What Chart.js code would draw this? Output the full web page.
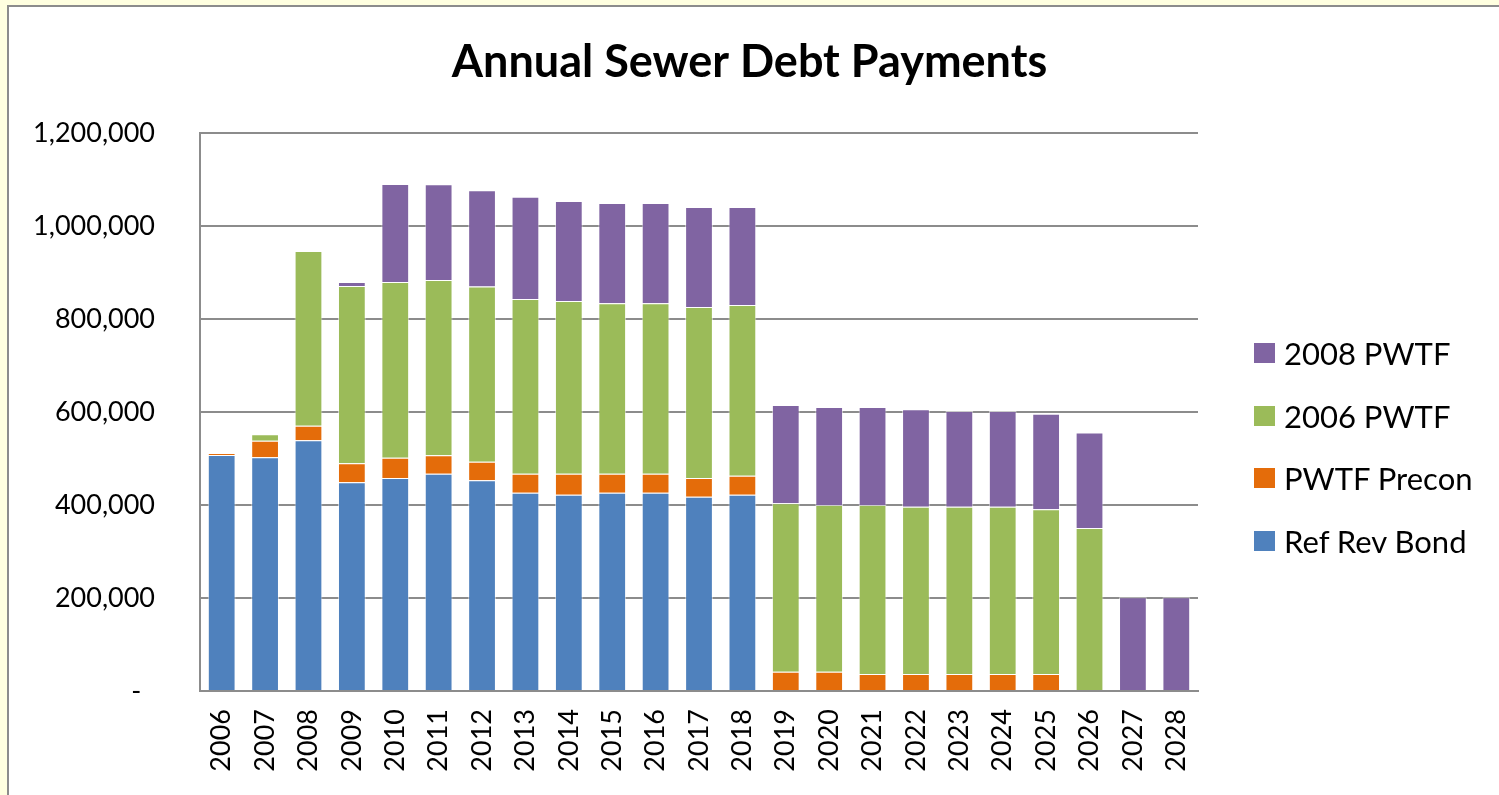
<!DOCTYPE html>
<html>
<head>
<meta charset="utf-8">
<script src="https://cdn.jsdelivr.net/npm/chart.js@4.4.1/dist/chart.umd.min.js"></script>
<style>
  html, body { margin: 0; padding: 0; }
  body { width: 1499px; height: 795px; overflow: hidden; background: #ffffe0; position: relative; font-family: Lato, sans-serif; }
  #frame { position: absolute; left: 7px; top: 5px; width: 1600px; height: 900px; background: #fff; border: 2px solid #8c8c8c; }
  #myChart { position: absolute; left: 0; top: 0; }
  #legend { position: absolute; left: 1254px; top: 322px; }
  .legend-row { display: flex; align-items: center; height: 62.5px; font-size: 31px; color: #000; white-space: nowrap; }
  .legend-box { width: 21px; height: 20px; margin-right: 9px; }
</style>
</head>
<body>
<div id="frame"></div>
<canvas id="myChart" width="1499" height="795"></canvas>
<div id="legend"></div>
<script>
const years = [
  "2006", "2007", "2008", "2009", "2010", "2011", "2012", "2013", "2014", "2015", "2016", "2017",
  "2018", "2019", "2020", "2021", "2022", "2023", "2024", "2025", "2026", "2027", "2028",
];

const refRevBond = [
  507500, 502600, 539000, 449000, 458000, 467000, 453000, 426500, 422000, 426500, 426500, 418000,
  422000, 0, 0, 0, 0, 0, 0, 0, 0, 0, 0,
];
const pwtfPrecon = [
  4500, 35500, 31500, 40600, 43700, 40000, 40000, 40500, 45000, 40500, 40500, 40000,
  41000, 41500, 41500, 36600, 36600, 36600, 36600, 36600, 0, 0, 0,
];
const pwtf2006 = [
  0, 14000, 375500, 381400, 378000, 377000, 377000, 376000, 371700, 367000, 367000, 368000,
  367000, 362500, 358500, 363400, 359400, 359400, 359400, 354400, 350500, 0, 0,
];
const pwtf2008 = [
  0, 0, 0, 8600, 210700, 206000, 207000, 220000, 215000, 215500, 215500, 215000,
  211000, 211000, 211000, 211000, 210000, 206000, 206000, 205000, 205500, 201500, 201500,
];

const yTicks = [0, 200000, 400000, 600000, 800000, 1000000, 1200000];

const gridGrey = "#8c8c8c";

function makeSeries(label, data, color) {
  return {
    label: label,
    data: data,
    backgroundColor: color,
    borderColor: "rgba(255, 255, 255, 0.55)",
    borderWidth: 1,
    barPercentage: 0.64,
    categoryPercentage: 1,
  };
}

const datasets = [
  makeSeries("Ref Rev Bond", refRevBond, "#4f81bd"),
  makeSeries("PWTF Precon", pwtfPrecon, "#e46c0a"),
  makeSeries("2006 PWTF", pwtf2006, "#9bbb59"),
  makeSeries("2008 PWTF", pwtf2008, "#8064a2"),
];

const chart = new Chart(document.getElementById("myChart"), {
  type: "bar",
  data: { labels: years, datasets: datasets },
  options: {
    responsive: false,
    animation: false,
    devicePixelRatio: 1,
    layout: { padding: 0 },
    plugins: {
      legend: { display: false },
      tooltip: { enabled: false },
      title: {
        display: true,
        text: "Annual Sewer Debt Payments",
        color: "#000",
        font: { family: "Lato", size: 45, weight: "bold" },
        padding: { top: 35, bottom: 44 },
      },
    },
    scales: {
      x: {
        stacked: true,
        grid: { display: false, drawTicks: false },
        border: { display: true, color: gridGrey, width: 2 },
        ticks: {
          color: "#000",
          font: { family: "Lato", size: 27 },
          minRotation: 90,
          maxRotation: 90,
          autoSkip: false,
          padding: 18,
        },
        afterFit: (scale) => { scale.height = 104; },
      },
      y: {
        stacked: true,
        min: 0,
        max: 1200000,
        grid: { color: gridGrey, lineWidth: 2, drawTicks: false },
        border: { display: true, color: gridGrey, width: 2 },
        afterBuildTicks: (scale) => { scale.ticks = yTicks.map((v) => ({ value: v })); },
        ticks: {
          color: "#000",
          font: { family: "Lato", size: 27 },
          padding: 45,
          callback: (v) => (v === 0 ? "-  " : v.toLocaleString("en-US")),
        },
        afterFit: (scale) => { scale.width = 200; },
      },
      // empty right-hand axis, only reserves the room the legend sits in
      legendSpace: {
        type: "linear",
        position: "right",
        display: true,
        grid: { display: false, drawTicks: false },
        border: { display: false },
        ticks: { display: false },
        afterFit: (scale) => { scale.width = 301; },
      },
    },
  },
});

// legend, top to bottom in reverse stack order like the original
const legendEl = document.getElementById("legend");
chart.data.datasets.slice().reverse().forEach((ds) => {
  const row = document.createElement("div");
  row.className = "legend-row";
  const box = document.createElement("span");
  box.className = "legend-box";
  box.style.background = ds.backgroundColor;
  const txt = document.createElement("span");
  txt.textContent = ds.label;
  row.appendChild(box);
  row.appendChild(txt);
  legendEl.appendChild(row);
});
</script>
</body>
</html>
